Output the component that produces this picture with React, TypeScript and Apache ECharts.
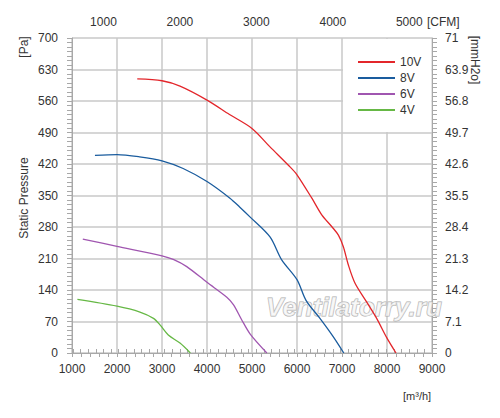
import React, { useEffect, useRef } from "react";
import * as echarts from "echarts";

const seriesNames = ["10V", "8V", "6V", "4V"];
const seriesColors = ["#e3262b", "#1a5c9e", "#a056b0", "#66b845"];

const flow10 = [2450, 3000, 3400, 4000, 4500, 5000, 5400, 5850, 6000, 6330, 6550, 6780, 6920, 7030, 7140, 7290, 7550, 7770, 8000, 8200];
const pres10 = [609, 605, 593, 562, 530, 499, 458, 413, 396, 344, 307, 280, 262, 236, 196, 155, 113, 77, 33, 0];

const flow8 = [1510, 2000, 2500, 3000, 3470, 4000, 4510, 4730, 4960, 5400, 5660, 6000, 6200, 6510, 6800, 7040];
const pres8 = [439, 441, 436, 427, 410, 381, 344, 324, 302, 258, 207, 163, 117, 77, 37, 0];

const flow6 = [1240, 2000, 3000, 3250, 3550, 4000, 4440, 4590, 4770, 4960, 5330];
const pres6 = [253, 237, 216, 208, 192, 157, 124, 107, 74, 42, 0];

const flow4 = [1120, 2000, 2510, 2810, 2960, 3140, 3400, 3630];
const pres4 = [119, 104, 91, 77, 62, 40, 22, 0];

const flows = [flow10, flow8, flow6, flow4];
const pressures = [pres10, pres8, pres6, pres4];

// axes
const m3hMin = 1000;
const m3hMax = 9000;
const m3hStep = 1000;
const paMin = 0;
const paMax = 700;
const paStep = 70;
const mmMax = 71;
const mmStep = 7.1;
const M3H_PER_CFM = 1.699;
const cfmLabels = [1000, 2000, 3000, 4000, 5000];
const cfmTickStart = 600;
const cfmTickEnd = 5200;
const cfmTickStep = 100;

const FONT = "Liberation Sans";
const TXT = "#333";
const GRID = "#c9c9c9";
const AXIS = "#a8a8a8";

const txt = (text: string, x: number, y: number, rotation: number, align = "center", size = 12) => ({
  type: "text",
  x,
  y,
  rotation,
  style: {
    text,
    fontSize: size,
    fontFamily: FONT,
    fill: TXT,
    textAlign: align,
    textVerticalAlign: "middle",
  },
});

export default function App() {
  const ref = useRef<HTMLDivElement>(null);
  useEffect(() => {
    if (!ref.current) return;
    const chart = echarts.init(ref.current, undefined, { renderer: "svg" });
    const cfmTicks: number[] = [];
    for (let v = cfmTickStart; v <= cfmTickEnd; v += cfmTickStep) cfmTicks.push(v);

    const option: any = {
      animation: false,
      textStyle: { fontFamily: FONT },
      grid: { left: 72, right: 68, top: 38, bottom: 65 },
      legend: {
        data: seriesNames,
        orient: "vertical",
        left: 343,
        top: 39,
        backgroundColor: "#ffffff",
        padding: [17, 10, 16, 15],
        icon: "rect",
        itemWidth: 37,
        itemHeight: 2,
        itemGap: 4,
        textStyle: { fontSize: 12, lineHeight: 12, color: TXT, fontFamily: FONT },
      },
      xAxis: [
        {
          type: "value",
          position: "bottom",
          min: m3hMin,
          max: m3hMax,
          interval: m3hStep,
          axisLine: { show: true, lineStyle: { color: AXIS } },
          axisTick: { show: true, length: 4, lineStyle: { color: AXIS } },
          minorTick: { show: true, splitNumber: 5, length: 4, lineStyle: { color: AXIS } },
          splitLine: { show: true, lineStyle: { color: GRID, width: 1.5 } },
          axisLabel: {
            margin: 10,
            fontSize: 12,
            color: TXT,
            fontFamily: FONT,
            formatter: (v: number) => String(Math.round(v)),
          },
        },
        {
          type: "value",
          position: "top",
          min: m3hMin / M3H_PER_CFM,
          max: m3hMax / M3H_PER_CFM,
          axisLine: { show: true, lineStyle: { color: AXIS } },
          axisTick: { show: true, length: 4, customValues: cfmTicks, lineStyle: { color: AXIS } },
          splitLine: { show: false },
          axisLabel: {
            margin: 10,
            fontSize: 12,
            color: TXT,
            fontFamily: FONT,
            customValues: cfmLabels,
            formatter: (v: number) => String(Math.round(v)),
          },
        },
      ],
      yAxis: [
        {
          type: "value",
          position: "left",
          min: paMin,
          max: paMax,
          interval: paStep,
          axisLine: { show: true, lineStyle: { color: AXIS } },
          axisTick: { show: true, length: 5, lineStyle: { color: AXIS } },
          minorTick: { show: true, splitNumber: 7, length: 5, lineStyle: { color: AXIS } },
          splitLine: { show: true, lineStyle: { color: GRID, width: 1.5 } },
          axisLabel: { margin: 14, fontSize: 12, color: TXT, fontFamily: FONT },
        },
        {
          type: "value",
          position: "right",
          min: 0,
          max: mmMax,
          interval: mmStep,
          axisLine: { show: true, lineStyle: { color: AXIS } },
          axisTick: { show: true, length: 5, lineStyle: { color: AXIS } },
          minorTick: { show: true, splitNumber: 7, length: 5, lineStyle: { color: AXIS } },
          splitLine: { show: false },
          axisLabel: {
            margin: 13,
            fontSize: 12,
            color: TXT,
            fontFamily: FONT,
            formatter: (v: number) => String(parseFloat(v.toFixed(1))),
          },
        },
      ],
      graphic: [
        txt("[Pa]", 24, 47, Math.PI / 2),
        txt("Static Pressure", 24, 198, Math.PI / 2),
        txt("[mmH2o]", 475, 60, -Math.PI / 2),
        txt("[CFM]", 427, 22, 0, "left"),
        txt("[m³/h]", 403, 396, 0, "left", 11),
        {
          type: "text",
          x: 266,
          y: 307,
          z: 1,
          style: {
            text: "Ventilatorry.ru",
            fontSize: 26,
            fontStyle: "italic",
            fontWeight: "bold",
            fontFamily: FONT,
            fill: "rgba(245,245,245,0.7)",
            stroke: "#adadad",
            lineWidth: 1,
            textAlign: "left",
            textVerticalAlign: "middle",
          },
        },
      ],
      series: seriesNames.map((name, i) => ({
        name,
        type: "line",
        xAxisIndex: 0,
        yAxisIndex: 0,
        symbol: "none",
        smooth: 0.3,
        z: 3,
        lineStyle: { color: seriesColors[i], width: 1.3 },
        itemStyle: { color: seriesColors[i] },
        data: flows[i].map((f, j) => [f, pressures[i][j]]),
      })),
    };
    chart.setOption(option);
    return () => chart.dispose();
  }, []);
  return (
    <div
      ref={ref}
      style={{ position: "fixed", left: 0, top: 0, width: 500, height: 418, background: "#fff" }}
    />
  );
}
